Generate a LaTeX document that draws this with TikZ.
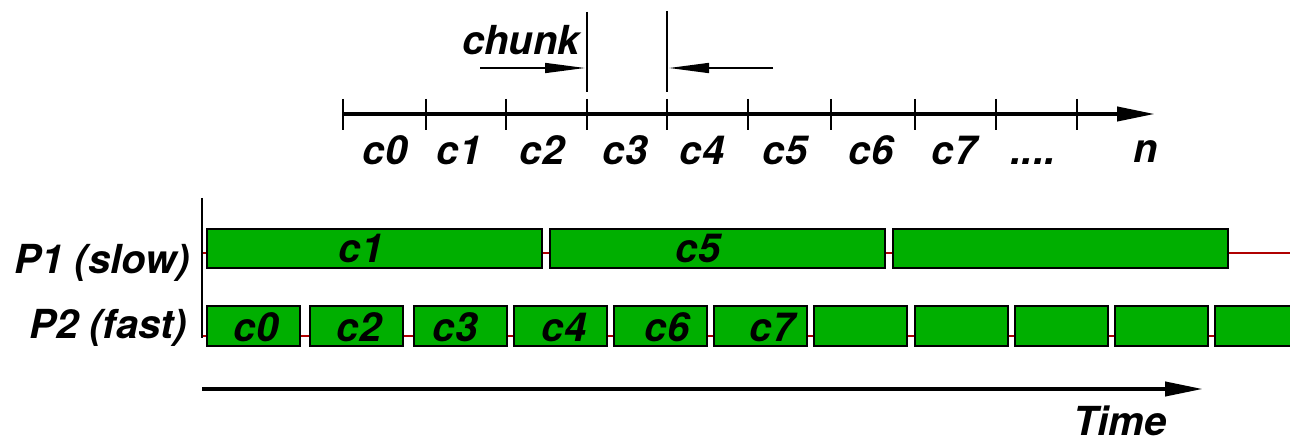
\documentclass[tikz,border=0pt]{standalone}
\usepackage{fontspec}
\setmainfont{TeX Gyre Heros}
\usepackage{xcolor}
\definecolor{cgreen}{HTML}{00AF00}
\definecolor{tline}{HTML}{B00000}
\usepackage{tikz}
\usetikzlibrary{positioning,arrows.meta}
\tikzset{
  lbl/.style={font=\fontsize{40}{46}\selectfont\bfseries\itshape,inner sep=0pt,anchor=base},
  bar/.style={draw=black,fill=cgreen,line width=2pt,anchor=north west,inner sep=0pt},
  pbar/.style={bar,minimum width=93pt,minimum height=40pt},
  sbar/.style={bar,minimum width=335pt,minimum height=39pt},
  axis/.style={line width=4pt,-{Triangle[length=38pt,width=14pt]}},
  tick/.style={line width=2pt},
  chk/.style={line width=1.5pt,-{Triangle[length=40pt,width=10pt]}},
  tl/.style={draw=tline,line width=2pt},
}
\begin{document}
\begin{tikzpicture}[x=1pt,y=-1pt]
  \useasboundingbox (0,0) rectangle (1290,438);
  % index axis
  \coordinate (n0) at (343,114);
  \coordinate (n1) at (1155,114);
  \draw[axis] (n0) -- (n1);
  \foreach \x in {343,426,506,587,667,748,831,915,996,1077}
    \draw[tick] (\x,99) -- (\x,130);
  \foreach \x/\t in {385/c0,459/c1,542/c2,625/c3,702/c4,785/c5,871/c6,954/c7}
    \node[lbl] (ax-\t) at (\x,165) {\t};
  \node[lbl] (ax-more) at (1033,165) {....};
  \node[lbl] (nlab) at (1146,163) {n};
  % one chunk
  \coordinate (ca) at (587,12);
  \coordinate (cb) at (587,92);
  \coordinate (cc) at (667,11);
  \coordinate (cd) at (667,92);
  \draw[tick] (ca) -- (cb);
  \draw[tick] (cc) -- (cd);
  \node[lbl] (chunk) at (521,55) {chunk};
  \coordinate (la) at (480,68);
  \coordinate (lb) at (585,68);
  \coordinate (ra) at (773,68);
  \coordinate (rb) at (669,68);
  \draw[chk] (la) -- (lb);
  \draw[chk] (ra) -- (rb);
  % processors
  \coordinate (top) at (202,198);
  \coordinate (bot) at (202,338);
  \coordinate (p1s) at (202,253);
  \coordinate (p1e) at (1290,253);
  \coordinate (p2s) at (202,336);
  \coordinate (p2e) at (1290,336);
  \draw[tl] (p1s) -- (p1e);
  \draw[tl] (p2s) -- (p2e);
  \draw[line width=2.5pt] (top) -- (bot);
  \node[lbl,anchor=base east] (p1lab) at (190,273) {P1 (slow)};
  \node[lbl,anchor=base east] (p2lab) at (187,338) {P2 (fast)};
  \foreach \x [count=\i] in {206,549,892}
    \node[sbar] (s\i) at (\x,228.5) {};
  \foreach \x [count=\i] in {206,309,413,513,613,713,813,914,1014,1114,1214}
    \node[pbar] (f\i) at (\x,305) {};
  \node[lbl] (s1lab) at (361,263) {c1};
  \node[lbl] (s2lab) at (698,263) {c5};
  \foreach \x/\t in {256/c0,359/c2,455/c3,564/c4,667/c6,772/c7}
    \node[lbl] (f-\t) at (\x,341) {\t};
  % time
  \coordinate (t0) at (202,389);
  \coordinate (t1) at (1203,389);
  \draw[axis] (t0) -- (t1);
  \node[lbl] (time) at (1120,435) {Time};
\end{tikzpicture}
\end{document}
